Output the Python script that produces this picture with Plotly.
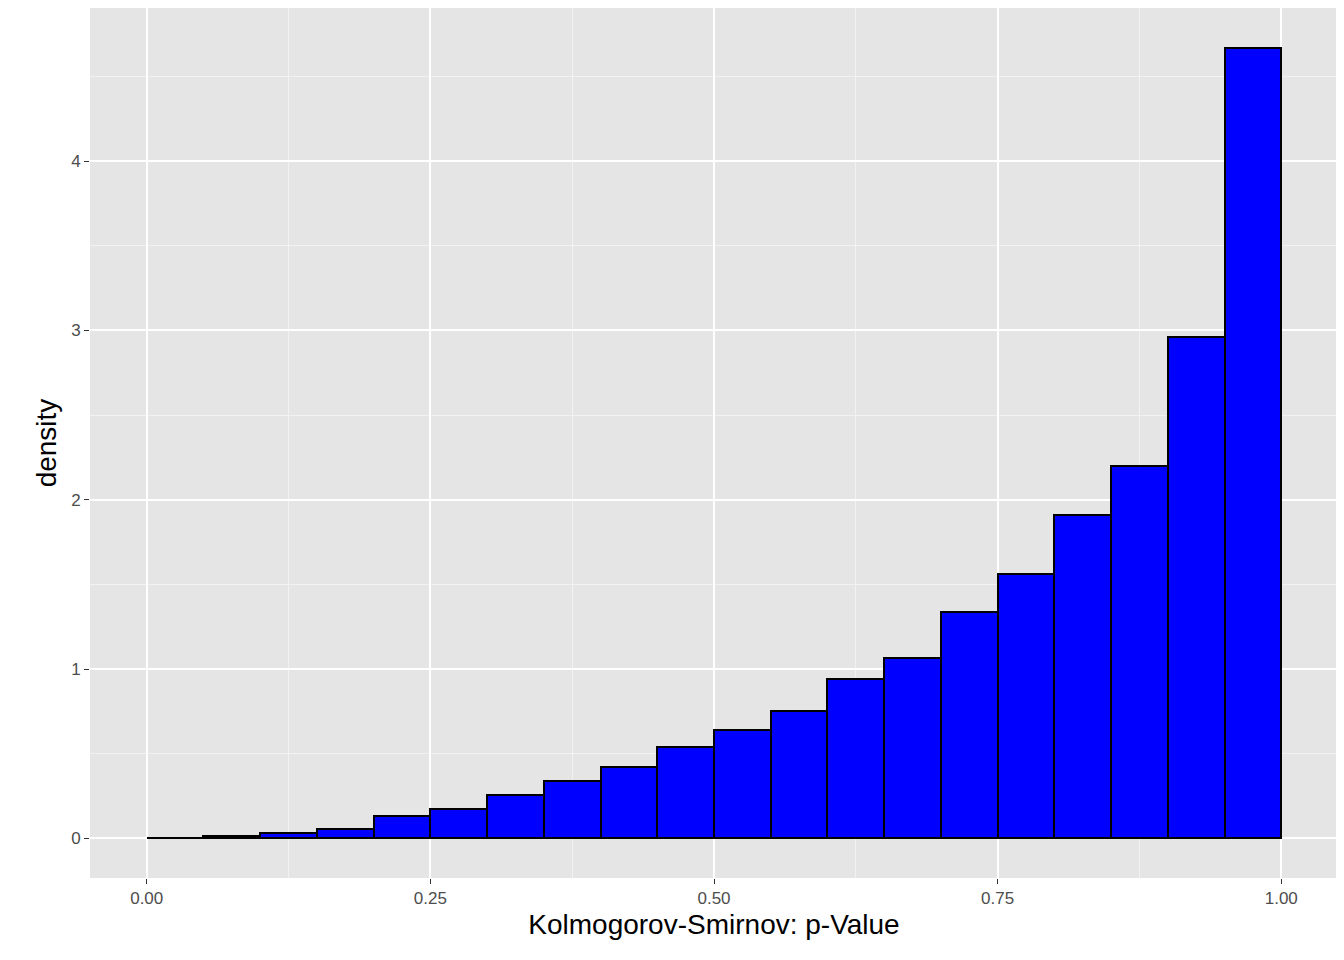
import plotly.graph_objects as go

bin_centers = [0.025 + 0.05 * i for i in range(20)]
density = [0.003, 0.012, 0.03, 0.055, 0.13, 0.175, 0.255, 0.34, 0.42, 0.54,
           0.64, 0.75, 0.94, 1.065, 1.34, 1.56, 1.91, 2.20, 2.96, 4.67]
x_ticks = [0, 0.25, 0.5, 0.75, 1.0]
x_labels = ["0.00", "0.25", "0.50", "0.75", "1.00"]
y_ticks = [0, 1, 2, 3, 4]

fig = go.Figure(go.Bar(
    x=bin_centers, y=density, width=0.05,
    marker=dict(color="#0000ff", line=dict(color="black", width=2)),
))

axis_common = dict(
    showgrid=True, gridcolor="white", gridwidth=2,
    minor=dict(showgrid=True, gridcolor="#f2f2f2", gridwidth=1),
    zeroline=False, ticks="outside", ticklen=5, tickcolor="#333333",
    automargin=False,
    tickfont=dict(family="Liberation Sans, Arial", size=17, color="#4d4d4d"),
    title_font=dict(family="Liberation Sans, Arial", size=28, color="black"),
)
fig.update_xaxes(axis_common, range=[-0.05, 1.05], tickvals=x_ticks, ticktext=x_labels,
                 minor_tickvals=[0.125, 0.375, 0.625, 0.875],
                 title_text="Kolmogorov-Smirnov: p-Value", title_standoff=6)
fig.update_yaxes(axis_common, range=[-0.2335, 4.9035], tickvals=y_ticks,
                 minor_tickvals=[0.5, 1.5, 2.5, 3.5, 4.5],
                 title_text="density", title_standoff=6)
fig.update_layout(
    width=1344, height=960, showlegend=False,
    paper_bgcolor="white", plot_bgcolor="#e5e5e5",
    margin=dict(l=82, r=14, t=0, b=90, autoexpand=False),
    bargap=0,
)
fig.write_html("out.html")
